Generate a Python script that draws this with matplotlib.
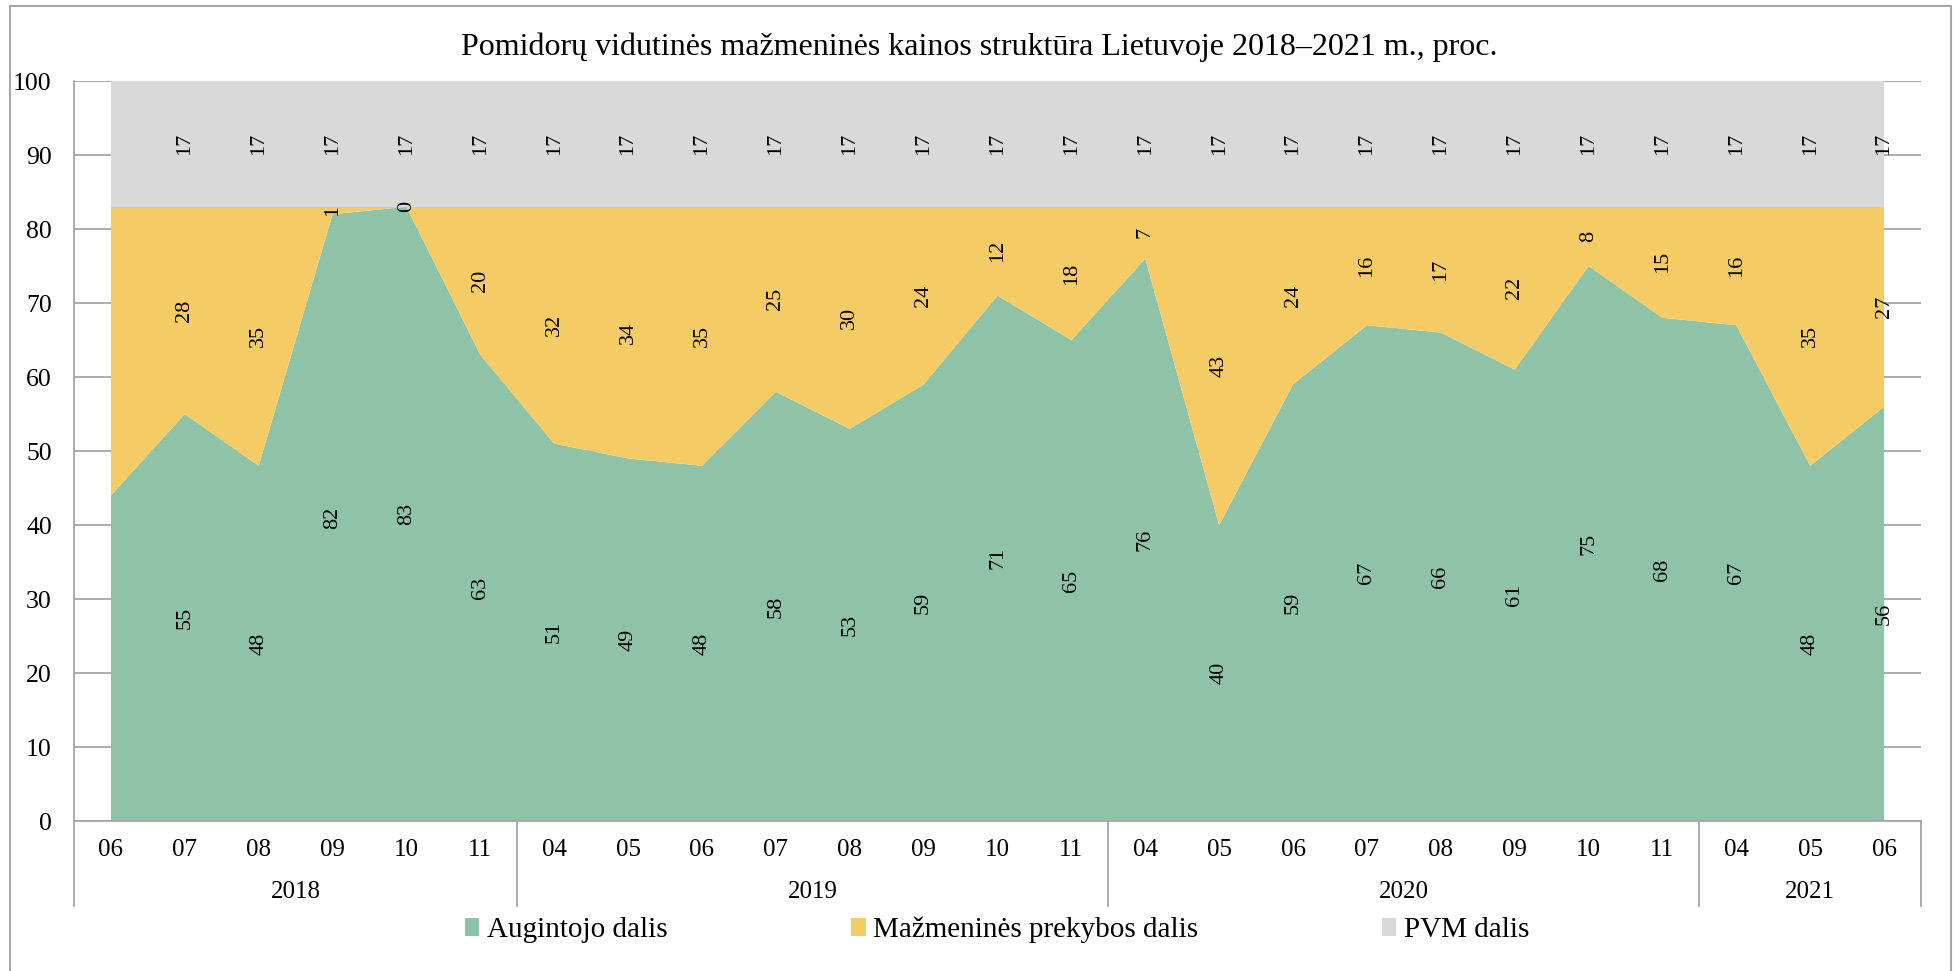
import matplotlib.pyplot as plt
from matplotlib.lines import Line2D
from matplotlib.patches import Patch, Rectangle

plt.rcParams['font.family'] = ['Liberation Serif', 'DejaVu Serif']

months = ['06', '07', '08', '09', '10', '11',
          '04', '05', '06', '07', '08', '09', '10', '11',
          '04', '05', '06', '07', '08', '09', '10', '11',
          '04', '05', '06']
years = ['2018', '2019', '2020', '2021']
year_sizes = [6, 8, 8, 3]

augintojo = [44, 55, 48, 82, 83, 63, 51, 49, 48, 58, 53, 59, 71, 65,
             76, 40, 59, 67, 66, 61, 75, 68, 67, 48, 56]
prekybos = [39, 28, 35, 1, 0, 20, 32, 34, 35, 25, 30, 24, 12, 18,
            7, 43, 24, 16, 17, 22, 8, 15, 16, 35, 27]
pvm = [17] * 25

series_names = ['Augintojo dalis', 'Mažmeninės prekybos dalis', 'PVM dalis']
colors = ['#8FC3A8', '#F5CB65', '#D9D9D9']
line_col = '#A6A6A6'

W, H = 1959, 971
fig = plt.figure(figsize=(W / 100, H / 100), dpi=100)

# plot area in pixels: x 74..1921, y 81..821 (from top)
ax = fig.add_axes([74 / W, 1 - 821 / H, (1921 - 74) / W, (821 - 81) / H])

x = list(range(len(months)))
ax.stackplot(x, augintojo, prekybos, pvm, colors=colors, linewidth=0, zorder=2)

ax.set_xlim(-0.5, len(months) - 0.5)
ax.set_ylim(0, 100)
ax.set_yticks(range(0, 101, 10))
ax.yaxis.grid(True, color=line_col, linewidth=1.3, zorder=0)
ax.set_axisbelow(True)
ax.tick_params(axis='y', length=0, pad=16, labelsize=18.5)
ax.set_xticks([])

for s in ['top', 'right']:
    ax.spines[s].set_visible(False)
ax.spines['bottom'].set_color(line_col)
ax.spines['bottom'].set_linewidth(1.3)
ax.spines['left'].set_visible(False)

# left axis line runs down through the category rows
ax.add_line(Line2D([0, 0], [1, -85 / 740], transform=ax.transAxes,
                   color=line_col, linewidth=1.3, clip_on=False))

# data labels, centred in each band (first month has none)
for i in range(1, len(months)):
    g, p, v = augintojo[i], prekybos[i], pvm[i]
    for val, ypos in [(g, g / 2), (p, g + p / 2), (v, g + p + v / 2)]:
        ax.text(i, ypos, str(val), rotation=90, ha='center', va='center',
                fontsize=16, zorder=5)

# two-level category axis
trans = ax.get_xaxis_transform()
for i, m in enumerate(months):
    ax.text(i, -29 / 740, m, ha='center', va='center', fontsize=18,
            transform=trans)

start = 0
for yr, n in zip(years, year_sizes):
    end = start + n
    ax.text((start + end - 1) / 2, -71 / 740, yr, ha='center', va='center',
            fontsize=18, transform=trans)
    ax.add_line(Line2D([end - 0.5, end - 0.5], [0, -85 / 740], transform=trans,
                       color=line_col, linewidth=1.3, clip_on=False))
    start = end

fig.text(0.5, 1 - 47 / H,
         'Pomidorų vidutinės mažmeninės kainos struktūra Lietuvoje 2018–2021 m., proc.',
         ha='center', va='center', fontsize=23)

handles = [Patch(facecolor=c, edgecolor='none') for c in colors]
fig.legend(handles, series_names, loc='center', bbox_to_anchor=(997 / W, 1 - 930 / H),
           ncol=3, frameon=False, fontsize=21, handlelength=0.5, handleheight=0.6,
           handletextpad=0.25, columnspacing=6.3)

# outer chart border
fig.patches.append(Rectangle((10 / W, -0.01), (1951 - 10) / W, 1.01 - 6 / H,
                             transform=fig.transFigure, fill=False,
                             edgecolor=line_col, linewidth=1.5))

fig.savefig('out.png', dpi=100)
